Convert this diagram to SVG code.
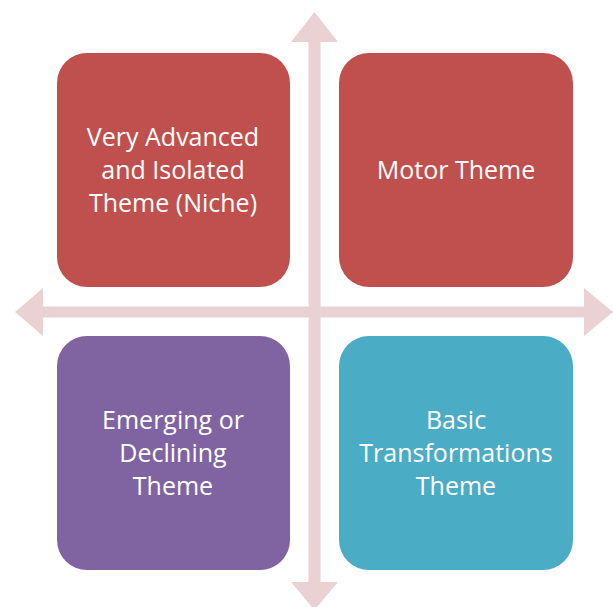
<svg xmlns="http://www.w3.org/2000/svg" width="613" height="607" viewBox="0 0 613 607">
<style>
.lbl{font-family:"Open Sans","Liberation Sans",sans-serif;font-size:25px;fill:#ffffff;text-anchor:middle}
.ax{fill:#ead2d4}
</style>
<rect width="613" height="607" fill="#ffffff"/>
<g id="connectors">
<polygon class="ax" points="15,312 43,288 43,306.5 584,306.5 584,288 613,312 584,336 584,317.5 43,317.5 43,336"/>
<polygon class="ax" points="314.5,12 338,42 320.5,42 320.5,582 338,582 314.5,610 291,582 308.5,582 308.5,42 291,42"/>
</g>
<g id="niche">
<rect x="57" y="53" width="233" height="234" rx="30" fill="#c0504d"/>
<text class="lbl" x="173" y="146">Very Advanced</text>
<text class="lbl" x="173" y="179">and Isolated</text>
<text class="lbl" x="173" y="212">Theme (Niche)</text>
</g>
<g id="motor">
<rect x="339" y="53" width="234" height="234" rx="30" fill="#c0504d"/>
<text class="lbl" x="456" y="179">Motor Theme</text>
</g>
<g id="emerging">
<rect x="57" y="336" width="233" height="234" rx="30" fill="#8064a2"/>
<text class="lbl" x="173" y="429">Emerging or</text>
<text class="lbl" x="173" y="462">Declining</text>
<text class="lbl" x="173" y="495">Theme</text>
</g>
<g id="basic">
<rect x="339" y="336" width="234" height="234" rx="30" fill="#4bacc6"/>
<text class="lbl" x="456" y="429">Basic</text>
<text class="lbl" x="456" y="462">Transformations</text>
<text class="lbl" x="456" y="495">Theme</text>
</g>
</svg>
